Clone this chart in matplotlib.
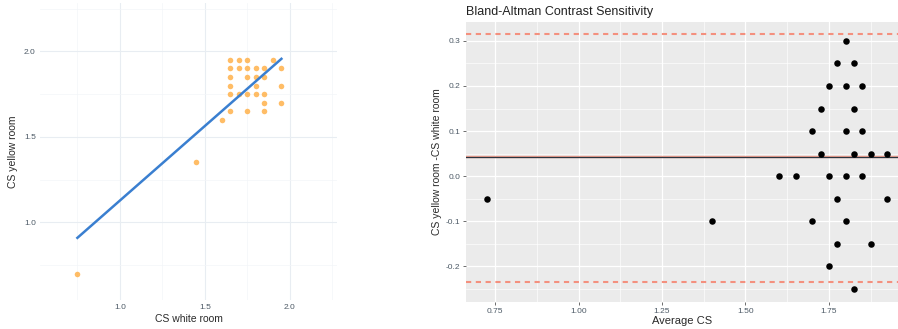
import matplotlib
matplotlib.use("Agg")
import matplotlib.pyplot as plt
import numpy as np

plt.rcParams["font.family"] = ["Liberation Sans", "DejaVu Sans"]

# ---- data: contrast sensitivity in white room vs yellow room ----
cs_white = [1.65, 1.70, 1.75, 1.90, 1.65, 1.70, 1.75, 1.80, 1.85, 1.95,
            1.65, 1.75, 1.80, 1.85, 1.65, 1.80, 1.95, 1.65, 1.70, 1.75,
            1.80, 1.85, 1.85, 1.95, 1.65, 1.75, 1.85, 1.60, 1.45, 0.75]
cs_yellow = [1.95, 1.95, 1.95, 1.95, 1.90, 1.90, 1.90, 1.90, 1.90, 1.90,
             1.85, 1.85, 1.85, 1.85, 1.80, 1.80, 1.80, 1.75, 1.75, 1.75,
             1.75, 1.75, 1.70, 1.70, 1.65, 1.65, 1.65, 1.60, 1.35, 0.70]

# fitted regression line
fit_slope = 0.873
fit_intercept = 0.254

# Bland-Altman summary lines
mean_diff = 0.042
upper_loa = 0.316
lower_loa = -0.234

left_xticks = [1.0, 1.5, 2.0]
left_yticks = [1.0, 1.5, 2.0]
right_xticks = [0.75, 1.00, 1.25, 1.50, 1.75]
right_yticks = [-0.2, -0.1, 0.0, 0.1, 0.2, 0.3]

w = np.array(cs_white)
y = np.array(cs_yellow)
avg = (w + y) / 2
diff = y - w

W, H = 898, 329
fig = plt.figure(figsize=(W / 100, H / 100), dpi=100)
fig.patch.set_facecolor("white")

tick_col = "#4D5A66"
lab_col = "#2A2A2A"

# ---------------- left panel ----------------
ax1 = fig.add_axes([40 / W, (H - 300) / H, 297 / W, 297 / H])
ax1.set_xlim(0.53, 2.277)
ax1.set_ylim(0.545, 2.283)
ax1.set_facecolor("white")
for s in ax1.spines.values():
    s.set_visible(False)
ax1.set_xticks(left_xticks)
ax1.set_yticks(left_yticks)
ax1.set_xticklabels([f"{v:.1f}" for v in left_xticks])
ax1.set_yticklabels([f"{v:.1f}" for v in left_yticks])
ax1.set_xticks([0.75, 1.25, 1.75, 2.25], minor=True)
ax1.set_yticks([0.75, 1.25, 1.75, 2.25], minor=True)
ax1.grid(True, which="major", color="#E8EDF2", lw=0.8)
ax1.grid(True, which="minor", color="#F3F5F8", lw=0.5)
ax1.tick_params(which="both", length=0, labelsize=6, labelcolor=tick_col, pad=3)
ax1.set_axisbelow(True)
ax1.scatter(w, y, s=16, color="#FFA733", alpha=0.75, marker="o", linewidths=0, zorder=3)
xs = np.array([w.min(), w.max()])
ax1.plot(xs, fit_intercept + fit_slope * xs, color="#3A7FD0", lw=1.8, zorder=4)
ax1.set_xlabel("CS white room", fontsize=7.5, color=lab_col, labelpad=2)
ax1.set_ylabel("CS yellow room", fontsize=7.5, color=lab_col, labelpad=4)

# ---------------- right panel ----------------
ax2 = fig.add_axes([466 / W, (H - 302) / H, (W - 466) / W, 280 / H])
ax2.set_xlim(0.663, 1.957)
ax2.set_ylim(-0.2795, 0.342)
ax2.set_facecolor("#EBEBEB")
for s in ax2.spines.values():
    s.set_visible(False)
ax2.set_xticks(right_xticks)
ax2.set_xticklabels([f"{v:.2f}" for v in right_xticks])
ax2.set_yticks(right_yticks)
ax2.set_yticklabels([f"{v:.1f}" for v in right_yticks])
ax2.set_xticks([0.875, 1.125, 1.375, 1.625, 1.875], minor=True)
ax2.set_yticks([-0.25, -0.15, -0.05, 0.05, 0.15, 0.25], minor=True)
ax2.grid(True, which="major", color="white", lw=0.9)
ax2.grid(True, which="minor", color="white", lw=0.45)
ax2.tick_params(which="major", length=2, width=0.6, color="#555555",
                labelsize=6, labelcolor=tick_col, pad=2)
ax2.tick_params(which="minor", length=0)
ax2.set_axisbelow(True)

ax2.axhline(upper_loa, color="#F4907E", lw=1.5, ls=(0, (2.5, 2.2)), zorder=2)
ax2.axhline(lower_loa, color="#F4907E", lw=1.5, ls=(0, (2.5, 2.2)), zorder=2)
ax2.axhline(mean_diff, color="#F2A090", lw=1.7, zorder=2)
ax2.axhline(mean_diff, color="#2B3540", lw=0.9, zorder=2)
ax2.scatter(avg, diff, s=22, color="black", linewidths=0, zorder=3)

ax2.set_xlabel("Average CS", fontsize=8, color=lab_col, labelpad=1)
ax2.set_ylabel("CS yellow room -CS white room", fontsize=7.5, color=lab_col, labelpad=3)
ax2.set_title("Bland-Altman Contrast Sensitivity", fontsize=9, color="#222222",
              loc="left", pad=5)

fig.savefig("out.png", dpi=100)
